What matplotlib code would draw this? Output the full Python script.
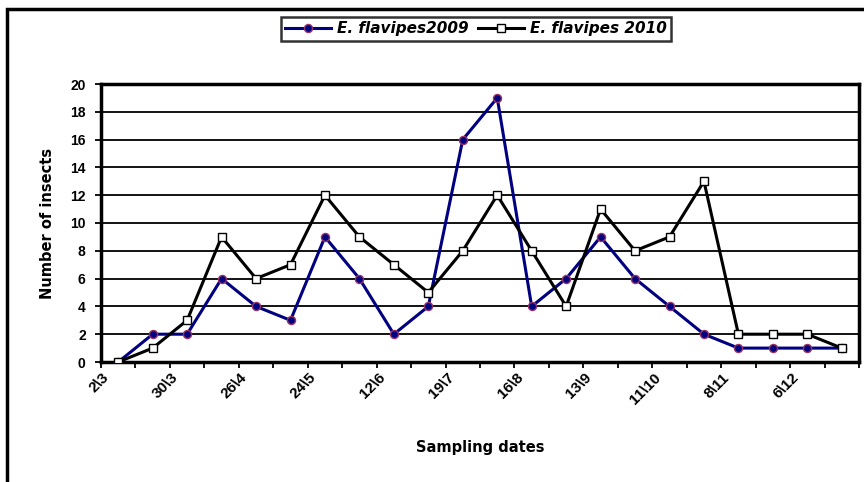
import matplotlib
matplotlib.use("Agg")
import matplotlib.pyplot as plt
from matplotlib.patches import Rectangle
from matplotlib.transforms import ScaledTranslation
import numpy as np

plt.rcParams['font.family'] = ['Liberation Sans', 'DejaVu Sans']

dates = ["2\\3", "", "30\\3", "", "26\\4", "", "24\\5", "", "12\\6", "", "19\\7", "",
         "16\\8", "", "13\\9", "", "11\\10", "", "8\\11", "", "6\\12", ""]
y2009 = [0, 2, 2, 6, 4, 3, 9, 6, 2, 4, 16, 19, 4, 6, 9, 6, 4, 2, 1, 1, 1, 1]
y2010 = [0, 1, 3, 9, 6, 7, 12, 9, 7, 5, 8, 12, 8, 4, 11, 8, 9, 13, 2, 2, 2, 1]
yticks = [0, 2, 4, 6, 8, 10, 12, 14, 16, 18, 20]

fig = plt.figure(figsize=(8.64, 4.82), dpi=100)
ax = fig.add_axes([101/864, 1-362/482, (859-101)/864, (362-84)/482])

x = np.arange(len(dates))
l1, = ax.plot(x, y2009, color='#000080', lw=2.2, marker='o', ms=5.8,
              mfc='#000080', mec='#993366', mew=1.0, zorder=3,
              label='E. flavipes2009')
l2, = ax.plot(x, y2010, color='black', lw=2.2, marker='s', ms=6,
              mfc='white', mec='black', mew=1.0, zorder=4,
              label='E. flavipes 2010')

ax.set_xlim(-0.5, len(dates) - 0.5)
ax.set_ylim(0, 20)
ax.set_yticks(yticks)
ax.set_yticklabels([str(v) for v in yticks], fontsize=10, fontweight='bold')
ax.yaxis.grid(True, color='black', lw=1.3)
ax.set_axisbelow(True)

label_pos = [i for i, d in enumerate(dates) if d]
ax.set_xticks(label_pos)
ax.set_xticklabels([dates[i] for i in label_pos], rotation=45, ha='right', va='top',
                   rotation_mode='anchor', fontsize=11, fontweight='bold')
ax.set_xticks(np.arange(-0.5, len(dates)), minor=True)
ax.tick_params(axis='x', which='major', length=0, pad=6)
ax.tick_params(axis='x', which='minor', length=4, width=1.3, direction='out')
ax.tick_params(axis='y', which='major', length=4, width=1.3, direction='out', pad=7)

off = ScaledTranslation(-16/100, 0, fig.dpi_scale_trans)
for tick in ax.xaxis.get_major_ticks():
    tick.label1.set_transform(tick.label1.get_transform() + off)

for s in ax.spines.values():
    s.set_linewidth(2.5)

ax.set_ylabel('Number of insects', fontsize=10.5, fontweight='bold', labelpad=11,
              family=['DejaVu Sans'])
ax.set_xlabel('Sampling dates', fontsize=10.5, fontweight='bold', labelpad=24,
              family=['DejaVu Sans'])

leg = fig.legend(handles=[l1, l2], loc='center', bbox_to_anchor=(476/864, 1-29/482),
                 ncol=2, frameon=True, fancybox=False, edgecolor='black',
                 prop={'weight': 'bold', 'style': 'italic', 'size': 11, 'family': 'DejaVu Sans'},
                 handlelength=3.0, columnspacing=0.6, handletextpad=0.4,
                 borderpad=0.3)
leg.get_frame().set_linewidth(1.8)

fig.add_artist(Rectangle((7/864, -0.1), 1.2, 1 - 9/482 + 0.1, transform=fig.transFigure,
                         fill=False, edgecolor='black', lw=2.5))

fig.savefig('out.png', dpi=100)
